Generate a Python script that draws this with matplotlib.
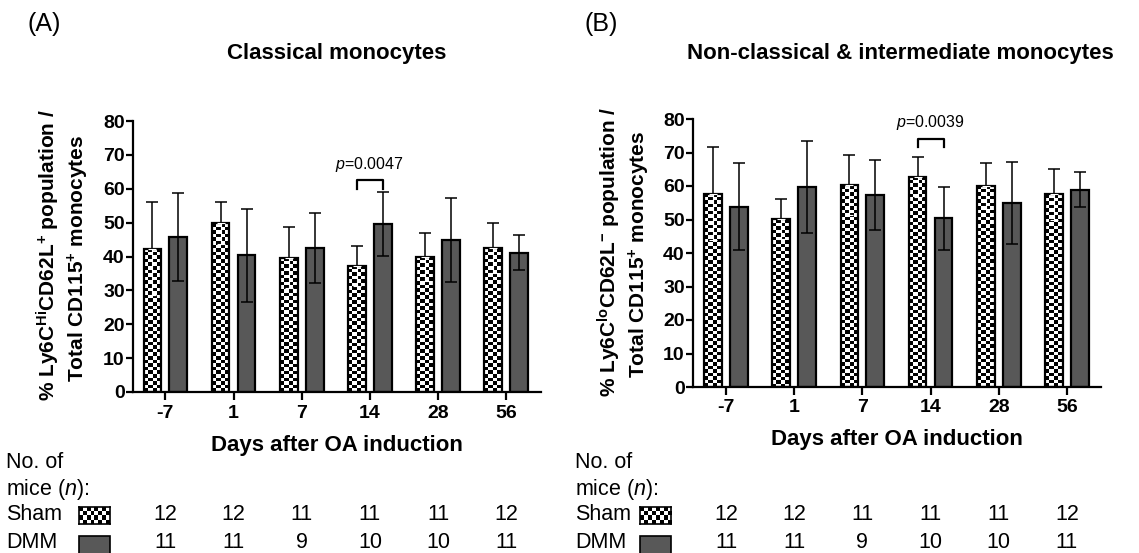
import numpy as np
import matplotlib
matplotlib.use("Agg")
import matplotlib.pyplot as plt
import matplotlib.transforms as mtransforms
from matplotlib.patches import Rectangle

plt.rcParams["font.family"] = "Liberation Sans"
plt.rcParams["mathtext.fontset"] = "custom"
plt.rcParams["mathtext.rm"] = "Liberation Sans"
plt.rcParams["mathtext.it"] = "Liberation Sans:italic"
plt.rcParams["mathtext.bf"] = "Liberation Sans:bold"

DAYS = ["-7", "1", "7", "14", "28", "56"]
N_SHAM = [12, 12, 11, 11, 11, 12]
N_DMM = [11, 11, 9, 10, 10, 11]

# (A) classical monocytes
A_SHAM = [42.3, 49.8, 39.7, 37.3, 39.9, 42.5]
A_SHAM_SD = [13.8, 6.2, 9.0, 5.9, 7.0, 7.4]
A_DMM = [45.8, 40.3, 42.5, 49.5, 44.8, 41.1]
A_DMM_SD = [13.0, 13.7, 10.4, 9.4, 12.4, 5.2]
A_P = "0.0047"

# (B) non-classical & intermediate
B_SHAM = [57.7, 50.1, 60.2, 62.7, 60.1, 57.5]
B_SHAM_SD = [13.9, 5.9, 9.0, 6.1, 6.9, 7.5]
B_DMM = [53.8, 59.7, 57.4, 50.4, 55.0, 58.9]
B_DMM_SD = [13.0, 13.8, 10.5, 9.4, 12.3, 5.3]
B_P = "0.0039"

GREY = "#585858"
W = 0.26
OFF = 0.19

W_PX, H_PX = 1139, 553
fig = plt.figure(figsize=(W_PX / 100, H_PX / 100), dpi=100)


def px_axes(l, t, r, b):
    return fig.add_axes([l / W_PX, 1 - b / H_PX, (r - l) / W_PX, (b - t) / H_PX])


def checker(ax, x0, x1, y0, y1, ncol=4, cell_h=1.05):
    nrow = max(1, int(round((y1 - y0) / cell_h)))
    pat = (np.indices((nrow, ncol)).sum(axis=0) % 2).astype(float)
    ax.imshow(pat, cmap="gray", vmin=0, vmax=1, extent=(x0, x1, y0, y1),
              aspect="auto", interpolation="nearest", origin="lower", zorder=2)


def panel(ax, sham, sham_sd, dmm, dmm_sd, pval, ptop, xlim):
    x = np.arange(len(DAYS))
    for xi, v in zip(x, sham):
        checker(ax, xi - OFF - W / 2, xi - OFF + W / 2, 0, v)
        ax.add_patch(Rectangle((xi - OFF - W / 2, 0), W, v, fill=False,
                               edgecolor="black", lw=1.6, zorder=3))
    ax.bar(x + OFF, dmm, W, color=GREY, edgecolor="black", lw=1.6, zorder=2)
    ax.errorbar(x - OFF, sham, yerr=[np.zeros(len(sham)), sham_sd], fmt="none",
                ecolor="black", elinewidth=1.1, capsize=4.5, capthick=1.1, zorder=4)
    ax.errorbar(x - OFF, sham, yerr=[sham_sd, np.zeros(len(sham))], fmt="none",
                ecolor="white", elinewidth=0.8, capsize=3, capthick=0.8, zorder=4)
    ax.errorbar(x + OFF, dmm, yerr=dmm_sd, fmt="none",
                ecolor="black", elinewidth=1.1, capsize=4.5, capthick=1.1, zorder=4)
    # significance bracket at day 14
    i = 3
    ax.plot([i - OFF, i - OFF, i + OFF, i + OFF], [ptop - 2.5, ptop, ptop, ptop - 2.5],
            color="black", lw=1.6, clip_on=False)
    ax.text(i, ptop + 2.0, r"$\mathit{p}$=" + pval, ha="center", va="bottom",
            fontsize=11.5)

    ax.set_xlim(*xlim)
    ax.set_ylim(0, 80)
    ax.set_yticks(range(0, 81, 10))
    ax.set_xticks(x)
    ax.set_xticklabels(DAYS)
    for s in ["top", "right"]:
        ax.spines[s].set_visible(False)
    for s in ["left", "bottom"]:
        ax.spines[s].set_linewidth(1.6)
    ax.tick_params(axis="y", length=5, width=1.6, labelsize=14, pad=1)
    ax.tick_params(axis="x", length=6, width=1.6, labelsize=14, pad=3)
    for lab in ax.get_xticklabels() + ax.get_yticklabels():
        lab.set_fontweight("bold")


def fig_text(xp, yp, s, **kw):
    return fig.text(xp / W_PX, 1 - yp / H_PX, s, **kw)


def table(ax, x_left, sw_left):
    tr = mtransforms.blended_transform_factory(ax.transData, fig.transFigure)
    fig_text(x_left, 462, "No. of", fontsize=15.5, va="center")
    fig_text(x_left, 490, r"mice ($\mathit{n}$):", fontsize=15.5, va="center")
    fig_text(x_left, 515, "Sham", fontsize=15.5, va="center")
    fig_text(x_left, 542, "DMM", fontsize=15.5, va="center")
    # swatches
    sw = fig.add_axes([sw_left / W_PX, 1 - 524 / H_PX, 31 / W_PX, 17 / H_PX])
    pat = (np.indices((4, 8)).sum(axis=0) % 2).astype(float)
    sw.imshow(pat, cmap="gray", vmin=0, vmax=1, aspect="auto", interpolation="nearest")
    sw.set_xticks([]); sw.set_yticks([])
    for s in sw.spines.values():
        s.set_linewidth(1.2)
    fig.patches.append(Rectangle((sw_left / W_PX, 1 - 556 / H_PX), 31 / W_PX, 20 / H_PX,
                                 transform=fig.transFigure, facecolor=GREY,
                                 edgecolor="black", lw=1.2))
    for xi, (a, b) in enumerate(zip(N_SHAM, N_DMM)):
        ax.text(xi, 1 - 515 / H_PX, str(a), transform=tr, ha="center", va="center",
                fontsize=15.5)
        ax.text(xi, 1 - 542 / H_PX, str(b), transform=tr, ha="center", va="center",
                fontsize=15.5)


# panel A
axA = px_axes(133, 121, 541, 392)
panel(axA, A_SHAM, A_SHAM_SD, A_DMM, A_DMM_SD, A_P, 62.5, (-0.475, 5.51))
fig_text(337, 53, "Classical monocytes", fontsize=16, fontweight="bold",
         ha="center", va="center")
fig_text(337, 445, "Days after OA induction", fontsize=16, fontweight="bold",
         ha="center", va="center")
fig_text(48, 255, r"% Ly6C$^{\mathbf{Hi}}$CD62L$^{\mathbf{+}}$ population /",
         rotation=90, ha="center", va="center", fontsize=15, fontweight="bold")
fig_text(78, 258, r"Total CD115$^{\mathbf{+}}$ monocytes",
         rotation=90, ha="center", va="center", fontsize=15, fontweight="bold")
fig_text(44, 24, "(A)", fontsize=18, ha="center", va="center")
table(axA, 6, 79)

# panel B
axB = px_axes(693, 119, 1101, 387)
panel(axB, B_SHAM, B_SHAM_SD, B_DMM, B_DMM_SD, B_P, 74, (-0.484, 5.5))
fig_text(900, 53, "Non-classical & intermediate monocytes", fontsize=16,
         fontweight="bold", ha="center", va="center")
fig_text(897, 440, "Days after OA induction", fontsize=16, fontweight="bold",
         ha="center", va="center")
fig_text(609, 252, r"% Ly6C$^{\mathbf{lo}}$CD62L$^{\mathbf{-}}$ population /",
         rotation=90, ha="center", va="center", fontsize=15, fontweight="bold")
fig_text(639, 254, r"Total CD115$^{\mathbf{+}}$ monocytes",
         rotation=90, ha="center", va="center", fontsize=15, fontweight="bold")
fig_text(601, 24, "(B)", fontsize=18, ha="center", va="center")
table(axB, 575, 640)

fig.savefig("out.png", dpi=100)
